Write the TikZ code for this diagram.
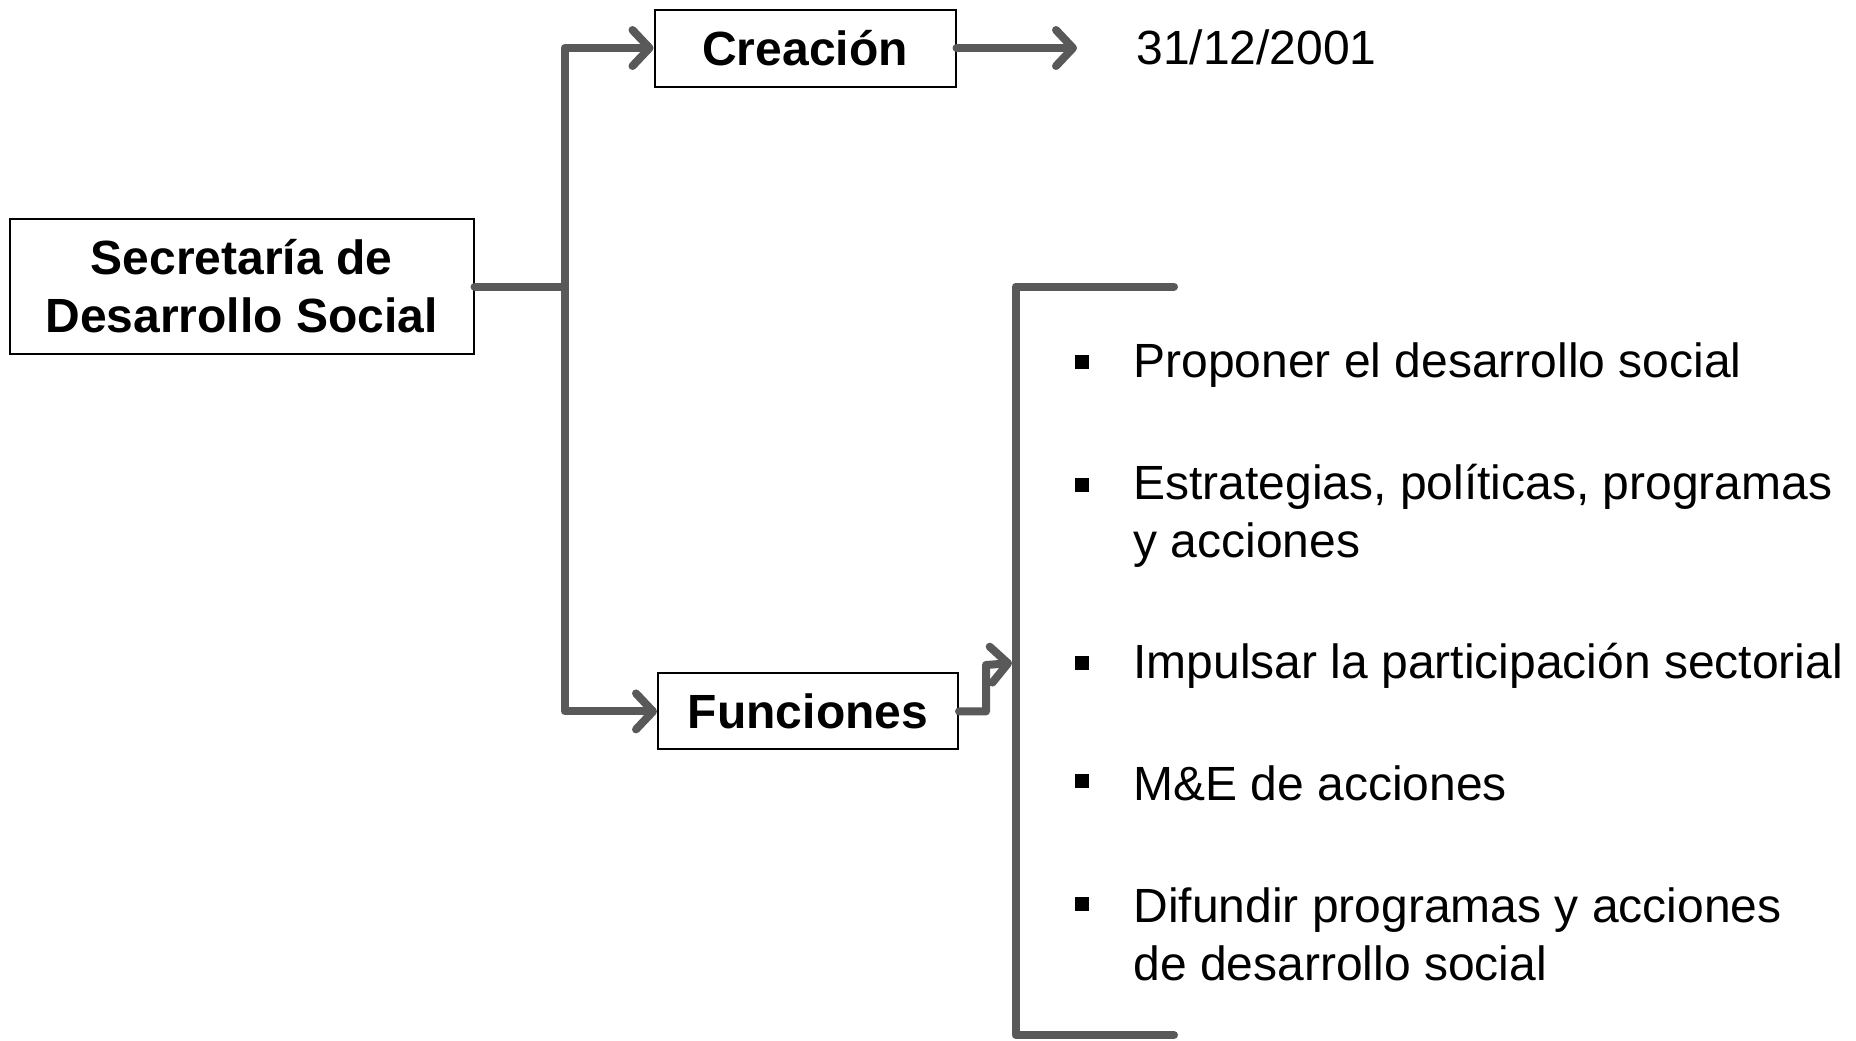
\documentclass[tikz,border=0pt]{standalone}
\usepackage{fontspec}
\setmainfont{Liberation Sans}
\usetikzlibrary{arrows.meta}
\definecolor{lineg}{HTML}{595959}
\begin{document}
\begin{tikzpicture}[x=0.5pt,y=-0.5pt,
  conn/.style={draw=lineg, line width=4pt, line join=round, line cap=round},
  arr/.style={conn, -{Straight Barb[length=8.5pt,width=18pt,round]}},
  box/.style={draw=black, line width=1pt, fill=white, inner sep=0pt, font=\fontsize{24}{29}\selectfont\bfseries, align=center},
  item/.style={inner sep=0pt, font=\fontsize{24}{29}\selectfont, align=left, anchor=west},
  bul/.style={fill=black, inner sep=0pt, minimum size=7pt}
]
\useasboundingbox (0,0) rectangle (1856,1040);
% boxes
\node[box, minimum width=232pt, minimum height=67.5pt] (sec) at (241.5,286.5) {Secretaría de\\Desarrollo Social};
\node[box, minimum width=150.5pt, minimum height=38.5pt] (cre) at (805,48) {Creación};
\node[box, minimum width=150pt, minimum height=38pt] (fun) at (808,711.4) {Funciones};
\node[item] (date) at (1136,47) {31/12/2001};
% coordinates
\coordinate (junc) at (564.6,286.5);
\coordinate (dend) at (1077,48);
\coordinate (fbend) at (986,665);
\coordinate (ftip) at (1012,663);
\coordinate (bt) at (1174,286.5);
\coordinate (btl) at (1015.6,286.5);
\coordinate (bbl) at (1015.6,1035);
\coordinate (bb) at (1174,1035);
% connectors
\draw[conn] (sec.east) -- (junc);
\draw[arr] (junc) |- (cre.west);
\draw[arr] (junc) |- (fun.west);
\draw[arr] (cre.east) -- (dend);
\draw[arr] (fun.east) -| (fbend) -- (ftip);
\draw[conn] (bt) -- (btl) -- (bbl) -- (bb);
% bullets
\node[bul] (b1) at (1082,362) {};
\node[bul] (b2) at (1082,485) {};
\node[bul] (b3) at (1082,663) {};
\node[bul] (b4) at (1082,781) {};
\node[bul] (b5) at (1082,904) {};
% items
\node[item] (t1) at (1133,365) {Proponer el desarrollo social};
\node[item] (t2) at (1133,516) {Estrategias, políticas, programas\\y acciones};
\node[item] (t3) at (1133,666) {Impulsar la participación sectorial};
\node[item] (t4) at (1133,783) {M\&E de acciones};
\node[item] (t5) at (1133,934) {Difundir programas y acciones\\de desarrollo social};
\end{tikzpicture}
\end{document}
